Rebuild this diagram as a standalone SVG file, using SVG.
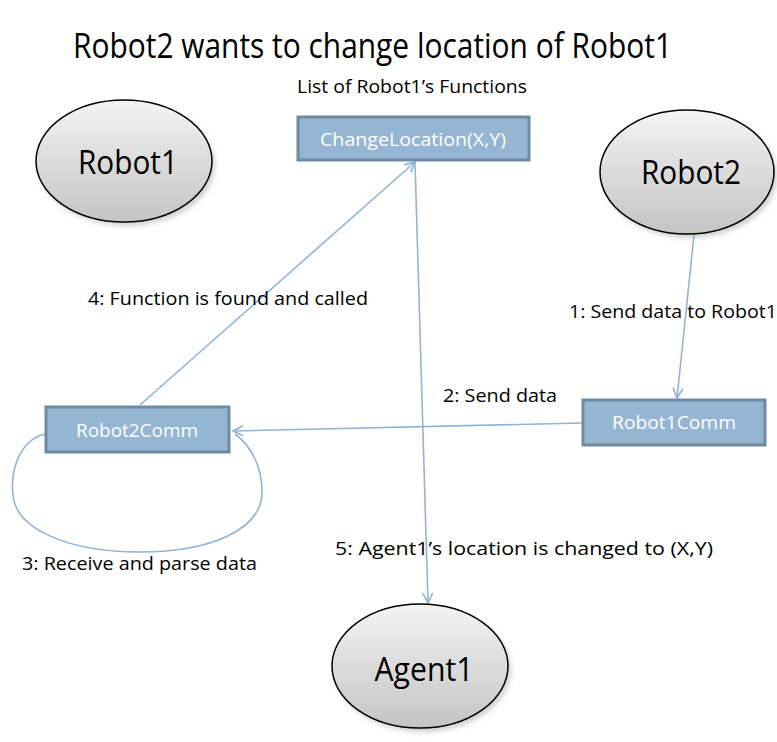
<svg xmlns="http://www.w3.org/2000/svg" width="777" height="742" viewBox="0 0 777 742">
  <defs>
    <linearGradient id="ovalFill" x1="0" y1="0" x2="0" y2="1">
      <stop offset="0" stop-color="#f4f4f4"/>
      <stop offset="1" stop-color="#c4c4c4"/>
    </linearGradient>
    <filter id="softShadow" x="-20%" y="-20%" width="140%" height="150%">
      <feGaussianBlur stdDeviation="2.5"/>
    </filter>
    <marker id="openArrow" viewBox="0 0 12 12" refX="11" refY="6" markerWidth="12" markerHeight="12" markerUnits="userSpaceOnUse" orient="auto">
      <path d="M1,1 L11,6 L1,11" fill="none" stroke="#8fb4d6" stroke-width="1.6"/>
    </marker>
    <style>
      .oval { fill: url(#ovalFill); stroke: #000; stroke-width: 1.5; }
      .shadow { fill: #9a9a9a; opacity: 0.45; filter: url(#softShadow); }
      .ovalText { font-family: "Open Sans", "Noto Sans", sans-serif; font-size: 33px; fill: #000; text-anchor: middle; }
      .box { fill: #94b6d3; stroke: #6f8aa3; stroke-width: 3; }
      .boxText { font-family: "Open Sans", "Noto Sans", sans-serif; font-size: 18px; fill: #ffffff; text-anchor: middle; }
      .label { font-family: "Open Sans", "Noto Sans", sans-serif; font-size: 17.5px; fill: #000; }
      .title { font-family: "Open Sans", "Noto Sans", sans-serif; font-size: 35px; fill: #000; }
      .wire { fill: none; stroke: #8fb4d6; stroke-width: 1.6; }
    </style>
  </defs>

  <rect width="777" height="742" fill="#ffffff"/>

  <text class="title" x="73" y="58" textLength="599" lengthAdjust="spacingAndGlyphs">Robot2 wants to change location of Robot1</text>

  <!-- connectors -->
  <g id="connectors">
    <line class="wire" x1="694" y1="235" x2="677" y2="398" marker-end="url(#openArrow)"/>
    <line class="wire" x1="582" y1="423" x2="233" y2="431" marker-end="url(#openArrow)"/>
    <path class="wire" d="M45,434 C20,440 10,470 13,495 C16,530 70,552 140,552 C210,552 262,530 262,492 C262,465 250,445 235,434"/>
    <line class="wire" x1="140" y1="405" x2="415" y2="162" marker-end="url(#openArrow)"/>
    <line class="wire" x1="415" y1="162" x2="428" y2="603" marker-end="url(#openArrow)"/>
  </g>

  <!-- connector labels -->
  <g id="labels">
    <text class="label" x="88" y="305" textLength="280" lengthAdjust="spacingAndGlyphs">4: Function is found and called</text>
    <text class="label" x="569" y="318" textLength="208" lengthAdjust="spacingAndGlyphs">1: Send data to Robot1</text>
    <text class="label" x="443" y="402" textLength="114" lengthAdjust="spacingAndGlyphs">2: Send data</text>
    <text class="label" x="22" y="570" textLength="235" lengthAdjust="spacingAndGlyphs">3: Receive and parse data</text>
    <text class="label" x="335" y="555" textLength="378" lengthAdjust="spacingAndGlyphs">5: Agent1’s location is changed to (X,Y)</text>
  </g>

  <g id="functionList">
    <text class="label" x="297" y="93" textLength="230" lengthAdjust="spacingAndGlyphs">List of Robot1’s Functions</text>
  </g>

  <g id="changeLocation">
    <rect class="box" x="298" y="117" width="231" height="43"/>
    <text class="boxText" x="413" y="146" textLength="186" lengthAdjust="spacingAndGlyphs">ChangeLocation(X,Y)</text>
  </g>

  <g id="robot1">
    <ellipse class="shadow" cx="127" cy="165" rx="88" ry="61"/>
    <ellipse class="oval" cx="124" cy="161" rx="88" ry="61"/>
    <text class="ovalText" x="128" y="174" textLength="100" lengthAdjust="spacingAndGlyphs">Robot1</text>
  </g>

  <g id="robot2">
    <ellipse class="shadow" cx="690" cy="176" rx="87" ry="62"/>
    <ellipse class="oval" cx="687" cy="172" rx="87" ry="62"/>
    <text class="ovalText" x="691" y="184" textLength="100" lengthAdjust="spacingAndGlyphs">Robot2</text>
  </g>

  <g id="agent1">
    <ellipse class="shadow" cx="423" cy="670" rx="88" ry="62"/>
    <ellipse class="oval" cx="420" cy="666" rx="88" ry="62"/>
    <text class="ovalText" x="424" y="681" textLength="99" lengthAdjust="spacingAndGlyphs">Agent1</text>
  </g>

  <g id="robot2Comm">
    <rect class="box" x="46" y="407" width="183" height="45"/>
    <text class="boxText" x="137" y="437" textLength="122" lengthAdjust="spacingAndGlyphs">Robot2Comm</text>
  </g>

  <g id="robot1Comm">
    <rect class="box" x="583" y="400" width="182" height="45"/>
    <text class="boxText" x="674" y="429" textLength="124" lengthAdjust="spacingAndGlyphs">Robot1Comm</text>
  </g>
</svg>
